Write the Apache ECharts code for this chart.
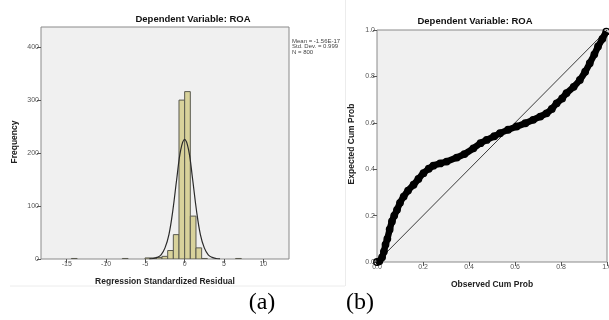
<!DOCTYPE html>
<html>
<head>
<meta charset="utf-8">
<script src="https://cdn.jsdelivr.net/npm/echarts@6/dist/echarts.min.js"></script>
<style>
html,body{margin:0;padding:0;background:#fff;}
#chart{width:609px;height:320px;}
</style>
</head>
<body>
<div id="chart"></div>
<script>
// ---- Histogram (a) ----
const binWidth = 0.72;
const binStarts = [-14.40, -7.92, -5.04, -4.32, -3.60, -2.88, -2.16, -1.44, -0.72, 0.00, 0.72, 1.44, 2.16, 6.48];
const binCounts = [1, 1, 2, 2, 3, 5, 16, 46, 300, 316, 81, 21, 1, 1];
const curveX = [-4.5, -4, -3.5, -3, -2.5, -2, -1.5, -1, -0.5, 0, 0.5, 1, 1.5, 2, 2.5, 3, 3.5, 4, 4.5];
const curveY = [0.3, 1, 3, 8, 21, 46, 92, 152, 206, 226, 206, 152, 92, 46, 21, 8, 3, 1, 0.3];
const histXTicks = [-15, -10, -5, 0, 5, 10];
const histYTicks = [0, 100, 200, 300, 400];
const statsLines = ['Mean = -1.56E-17', 'Std. Dev. = 0.999', 'N = 800'];

// ---- P-P plot (b) ----
const observedCum = [0.000, 0.010, 0.022, 0.030, 0.037, 0.045, 0.055, 0.065, 0.075, 0.087, 0.100, 0.116, 0.135, 0.159, 0.180, 0.202, 0.225, 0.245, 0.275, 0.303, 0.347, 0.380, 0.419, 0.450, 0.477, 0.510, 0.535, 0.570, 0.607, 0.645, 0.679, 0.710, 0.737, 0.760, 0.781, 0.805, 0.824, 0.855, 0.882, 0.905, 0.925, 0.945, 0.961, 0.980, 0.997];
const expectedCum = [0.000, 0.003, 0.020, 0.045, 0.075, 0.100, 0.140, 0.175, 0.200, 0.225, 0.255, 0.282, 0.308, 0.333, 0.358, 0.383, 0.402, 0.415, 0.425, 0.433, 0.450, 0.465, 0.490, 0.512, 0.526, 0.542, 0.555, 0.570, 0.584, 0.598, 0.613, 0.627, 0.641, 0.660, 0.684, 0.705, 0.728, 0.755, 0.785, 0.820, 0.857, 0.895, 0.929, 0.962, 0.993];
const ppTicks = [0, 0.2, 0.4, 0.6, 0.8, 1.0];
const refLine = [[0, 0], [1, 1]];

const titleText = 'Dependent Variable: ROA';
const FONT = '"Liberation Sans", Arial, sans-serif';

const histData = binStarts.map((s, i) => [s, s + binWidth, binCounts[i]]);
const curveData = curveX.map((x, i) => [x, curveY[i]]);
const ppData = observedCum.map((x, i) => [x, expectedCum[i]]);

const tickLabelStyle = {fontFamily: FONT, fontSize: 7, color: '#555', margin: 2, hideOverlap: false};
const tickStyle = {show: true, inside: false, length: 4, lineStyle: {color: '#555', width: 1}};
const axLine = {show: false, onZero: false};

const chart = echarts.init(document.getElementById('chart'), null, {renderer: 'canvas'});
chart.setOption({
  animation: false,
  backgroundColor: '#ffffff',
  grid: [
    {left: 41, top: 27, width: 248, height: 232, show: true, backgroundColor: '#f0f0f0', borderColor: '#8a8a8a', borderWidth: 1, containLabel: false, outerBoundsMode: 'none'},
    {left: 377, top: 30, width: 230, height: 232, show: true, backgroundColor: '#f0f0f0', borderColor: '#8a8a8a', borderWidth: 1, containLabel: false, outerBoundsMode: 'none'}
  ],
  xAxis: [
    {gridIndex: 0, type: 'value', min: -18.27, max: 13.27,
     axisLine: axLine, splitLine: {show: false},
     axisTick: Object.assign({customValues: histXTicks}, tickStyle),
     axisLabel: Object.assign({customValues: histXTicks}, tickLabelStyle)},
    {gridIndex: 1, type: 'value', min: 0, max: 1,
     axisLine: axLine, splitLine: {show: false},
     axisTick: Object.assign({customValues: ppTicks}, tickStyle),
     axisLabel: Object.assign({customValues: ppTicks, formatter: v => v.toFixed(1)}, tickLabelStyle)}
  ],
  yAxis: [
    {gridIndex: 0, type: 'value', min: 0, max: 438,
     axisLine: axLine, splitLine: {show: false},
     axisTick: Object.assign({customValues: histYTicks}, tickStyle),
     axisLabel: Object.assign({customValues: histYTicks}, tickLabelStyle)},
    {gridIndex: 1, type: 'value', min: 0, max: 1,
     axisLine: axLine, splitLine: {show: false},
     axisTick: Object.assign({customValues: ppTicks}, tickStyle),
     axisLabel: Object.assign({customValues: ppTicks, formatter: v => v.toFixed(1)}, tickLabelStyle)}
  ],
  series: [
    {type: 'custom', xAxisIndex: 0, yAxisIndex: 0, data: histData, clip: true,
     encode: {x: [0, 1], y: 2},
     renderItem: function (params, api) {
       const p0 = api.coord([api.value(0), api.value(2)]);
       const p1 = api.coord([api.value(1), 0]);
       return {type: 'rect',
         shape: {x: p0[0], y: p0[1], width: p1[0] - p0[0], height: p1[1] - p0[1]},
         style: {fill: '#d8d29b', stroke: '#5a5a50', lineWidth: 1}};
     }},
    {type: 'line', xAxisIndex: 0, yAxisIndex: 0, data: curveData, smooth: 0.4,
     showSymbol: false, symbol: 'none', lineStyle: {color: '#2a2a2a', width: 1.2}, z: 5},
    {type: 'line', xAxisIndex: 1, yAxisIndex: 1, data: refLine, showSymbol: false, symbol: 'none',
     lineStyle: {color: '#3a3a3a', width: 1}, z: 3},
    {type: 'line', xAxisIndex: 1, yAxisIndex: 1, data: ppData, smooth: 0.3,
     symbol: 'circle', symbolSize: 6.5, showAllSymbol: true,
     itemStyle: {color: 'transparent', borderColor: '#000', borderWidth: 1.3},
     lineStyle: {color: '#000', width: 6.5}, z: 4}
  ],
  graphic: [
    {type: 'text', x: 193, y: 19, style: {text: titleText, font: 'bold 9.5px ' + FONT, fill: '#111', textAlign: 'center', textVerticalAlign: 'middle'}},
    {type: 'text', x: 475, y: 21.5, style: {text: titleText, font: 'bold 9.5px ' + FONT, fill: '#111', textAlign: 'center', textVerticalAlign: 'middle'}},
    {type: 'text', x: 15, y: 142, rotation: Math.PI / 2, style: {text: 'Frequency', font: 'bold 8.5px ' + FONT, fill: '#222', textAlign: 'center', textVerticalAlign: 'middle'}},
    {type: 'text', x: 165, y: 282, style: {text: 'Regression Standardized Residual', font: 'bold 8.5px ' + FONT, fill: '#222', textAlign: 'center', textVerticalAlign: 'middle'}},
    {type: 'text', x: 352, y: 144, rotation: Math.PI / 2, style: {text: 'Expected Cum Prob', font: 'bold 8.5px ' + FONT, fill: '#222', textAlign: 'center', textVerticalAlign: 'middle'}},
    {type: 'text', x: 492, y: 285, style: {text: 'Observed Cum Prob', font: 'bold 8.5px ' + FONT, fill: '#222', textAlign: 'center', textVerticalAlign: 'middle'}},
    {type: 'text', x: 292, y: 41, style: {text: statsLines[0], font: '6px ' + FONT, fill: '#444', textAlign: 'left', textVerticalAlign: 'middle'}},
    {type: 'text', x: 292, y: 46.5, style: {text: statsLines[1], font: '6px ' + FONT, fill: '#444', textAlign: 'left', textVerticalAlign: 'middle'}},
    {type: 'text', x: 292, y: 52, style: {text: statsLines[2], font: '6px ' + FONT, fill: '#444', textAlign: 'left', textVerticalAlign: 'middle'}},
    {type: 'text', x: 262, y: 303, style: {text: '(a)', font: '24px "Liberation Serif", "Times New Roman", serif', fill: '#000', textAlign: 'center', textVerticalAlign: 'middle'}},
    {type: 'text', x: 360, y: 303, style: {text: '(b)', font: '24px "Liberation Serif", "Times New Roman", serif', fill: '#000', textAlign: 'center', textVerticalAlign: 'middle'}},
    {type: 'line', shape: {x1: 10, y1: 286, x2: 345, y2: 286}, style: {stroke: '#ececec', lineWidth: 1}},
    {type: 'line', shape: {x1: 345.5, y1: 0, x2: 345.5, y2: 286}, style: {stroke: '#ececec', lineWidth: 1}}
  ]
});
</script>
</body>
</html>
